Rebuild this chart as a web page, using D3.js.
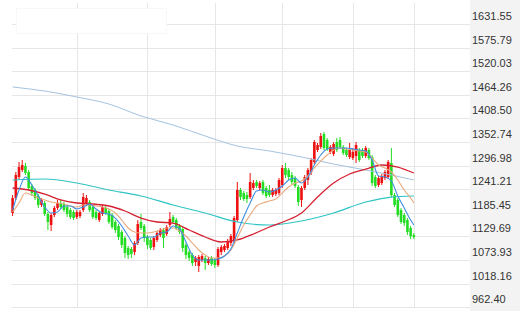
<!DOCTYPE html>
<html>
<head>
<meta charset="utf-8">
<script src="https://cdn.jsdelivr.net/npm/d3@7"></script>
<style>
  html, body { margin: 0; padding: 0; background: #fff; }
  svg { display: block; }
</style>
</head>
<body>
<div id="chart"></div>
<script>
// price axis labels (top to bottom)
const tickLabels = ['1631.55', '1575.79', '1520.03', '1464.26', '1408.50', '1352.74', '1296.98',
  '1241.21', '1185.45', '1129.69', '1073.93', '1018.16', '962.40'];

// candle index where each month starts (vertical grid lines)
const monthStarts = [20, 42, 63, 84, 106, 125];

const open = [
  1185.0, 1220.4, 1270.0, 1286.6, 1296.0, 1281.8, 1248.7, 1239.3, 1225.1, 1203.9,
  1208.6, 1182.6, 1156.6, 1180.2, 1196.8, 1208.6, 1206.2, 1199.1, 1192.0, 1187.3,
  1175.5, 1177.9, 1192.0, 1208.6, 1210.9, 1199.1, 1187.3, 1168.4, 1182.6, 1196.8,
  1189.7, 1180.2, 1163.7, 1154.2, 1140.1, 1125.9, 1102.3, 1099.9, 1092.8, 1114.1,
  1163.7, 1154.2, 1128.3, 1121.2, 1104.6, 1121.2, 1133.0, 1144.8, 1135.3, 1156.6,
  1175.5, 1168.4, 1154.2, 1147.2, 1109.4, 1092.8, 1085.7, 1069.2, 1059.8, 1073.9,
  1078.7, 1066.8, 1078.7, 1073.9, 1062.1, 1092.8, 1097.5, 1102.3, 1114.1, 1118.8,
  1168.4, 1239.3, 1232.2, 1227.5, 1222.7, 1244.0, 1258.2, 1244.0, 1258.2, 1244.0,
  1239.3, 1227.5, 1229.8, 1232.2, 1251.1, 1291.3, 1286.6, 1274.7, 1267.6, 1246.4,
  1215.7, 1244.0, 1262.9, 1281.8, 1305.5, 1333.8, 1340.9, 1371.6, 1357.5, 1329.1,
  1324.4, 1352.7, 1357.5, 1340.9, 1333.8, 1317.3, 1314.9, 1319.6, 1333.8, 1333.8,
  1319.6, 1333.8, 1317.3, 1270.0, 1251.1, 1255.8, 1267.6, 1270.0, 1303.1, 1227.5,
  1215.7, 1192.0, 1180.2, 1168.4, 1149.5, 1133.0
];
const close = [
  1220.4, 1274.7, 1293.6, 1298.4, 1279.5, 1244.0, 1232.2, 1220.4, 1203.9, 1215.7,
  1182.6, 1163.7, 1180.2, 1196.8, 1208.6, 1199.1, 1192.0, 1182.6, 1175.5, 1173.1,
  1187.3, 1187.3, 1222.7, 1220.4, 1192.0, 1175.5, 1173.1, 1185.0, 1199.1, 1185.0,
  1163.7, 1151.9, 1144.8, 1128.3, 1109.4, 1090.5, 1085.7, 1088.1, 1114.1, 1159.0,
  1149.5, 1125.9, 1109.4, 1102.3, 1125.9, 1137.7, 1144.8, 1125.9, 1151.9, 1170.8,
  1163.7, 1149.5, 1140.1, 1102.3, 1085.7, 1078.7, 1066.8, 1078.7, 1081.0, 1083.4,
  1066.8, 1076.3, 1064.5, 1062.1, 1099.9, 1104.6, 1107.0, 1118.8, 1130.6, 1173.1,
  1239.3, 1222.7, 1218.0, 1218.0, 1258.2, 1255.8, 1248.7, 1255.8, 1232.2, 1225.1,
  1227.5, 1239.3, 1239.3, 1262.9, 1291.3, 1274.7, 1270.0, 1258.2, 1248.7, 1210.9,
  1244.0, 1270.0, 1286.6, 1310.2, 1352.7, 1345.6, 1366.9, 1338.5, 1336.2, 1340.9,
  1348.0, 1333.8, 1340.9, 1326.7, 1322.0, 1333.8, 1329.1, 1345.6, 1310.2, 1319.6,
  1338.5, 1314.9, 1255.8, 1248.7, 1267.6, 1272.4, 1281.8, 1305.5, 1227.5, 1203.9,
  1180.2, 1163.7, 1161.3, 1140.1, 1130.6, 1128.3
];
const high = [
  1227.5, 1281.8, 1305.5, 1310.2, 1303.1, 1286.6, 1253.5, 1244.0, 1229.8, 1220.4,
  1213.3, 1187.3, 1185.0, 1201.5, 1215.7, 1215.7, 1210.9, 1203.9, 1196.8, 1192.0,
  1192.0, 1192.0, 1232.2, 1227.5, 1215.7, 1203.9, 1192.0, 1189.7, 1203.9, 1201.5,
  1194.4, 1185.0, 1168.4, 1159.0, 1144.8, 1130.6, 1107.0, 1104.6, 1118.8, 1168.4,
  1182.6, 1159.0, 1133.0, 1125.9, 1130.6, 1142.4, 1149.5, 1149.5, 1156.6, 1187.3,
  1180.2, 1173.1, 1159.0, 1151.9, 1114.1, 1097.5, 1090.5, 1083.4, 1085.7, 1088.1,
  1083.4, 1081.0, 1083.4, 1078.7, 1104.6, 1109.4, 1111.7, 1123.5, 1135.3, 1177.9,
  1258.2, 1244.0, 1236.9, 1234.6, 1279.5, 1262.9, 1262.9, 1260.6, 1262.9, 1248.7,
  1251.1, 1244.0, 1244.0, 1267.6, 1298.4, 1303.1, 1291.3, 1281.8, 1272.4, 1251.1,
  1248.7, 1274.7, 1291.3, 1314.9, 1357.5, 1350.4, 1374.0, 1376.4, 1362.2, 1345.6,
  1352.7, 1362.2, 1364.5, 1345.6, 1338.5, 1350.4, 1338.5, 1352.7, 1338.5, 1338.5,
  1343.3, 1338.5, 1322.0, 1274.7, 1272.4, 1277.1, 1286.6, 1310.2, 1338.5, 1232.2,
  1220.4, 1196.8, 1185.0, 1173.1, 1154.2, 1137.7
];
const low = [
  1177.9, 1215.7, 1265.3, 1281.8, 1274.7, 1239.3, 1225.1, 1215.7, 1196.8, 1199.1,
  1177.9, 1144.8, 1142.4, 1175.5, 1192.0, 1194.4, 1187.3, 1175.5, 1170.8, 1168.4,
  1170.8, 1173.1, 1187.3, 1201.5, 1187.3, 1170.8, 1168.4, 1163.7, 1177.9, 1180.2,
  1159.0, 1147.2, 1137.7, 1121.2, 1102.3, 1078.7, 1076.3, 1078.7, 1085.7, 1109.4,
  1144.8, 1116.4, 1099.9, 1097.5, 1097.5, 1116.4, 1128.3, 1102.3, 1130.6, 1151.9,
  1159.0, 1144.8, 1135.3, 1092.8, 1076.3, 1071.6, 1059.8, 1059.8, 1045.6, 1069.2,
  1050.3, 1062.1, 1059.8, 1055.0, 1057.4, 1085.7, 1092.8, 1097.5, 1107.0, 1114.1,
  1163.7, 1215.7, 1213.3, 1208.6, 1218.0, 1239.3, 1244.0, 1239.3, 1227.5, 1220.4,
  1222.7, 1222.7, 1225.1, 1227.5, 1244.0, 1267.6, 1262.9, 1253.5, 1244.0, 1201.5,
  1199.1, 1239.3, 1251.1, 1274.7, 1300.7, 1329.1, 1336.2, 1333.8, 1331.5, 1324.4,
  1319.6, 1329.1, 1336.2, 1322.0, 1317.3, 1312.6, 1310.2, 1303.1, 1305.5, 1314.9,
  1314.9, 1310.2, 1248.7, 1244.0, 1246.4, 1251.1, 1262.9, 1265.3, 1222.7, 1199.1,
  1175.5, 1159.0, 1154.2, 1133.0, 1123.5, 1123.5
];

// moving averages, [candle index, value]
const ma5 = [
  [0, 1192.0], [2, 1239.3], [4, 1270.0], [6, 1251.1], [8, 1225.1], [10, 1199.1], [12, 1185.0], [14, 1187.3],
  [16, 1201.5], [18, 1201.5], [20, 1194.4], [22, 1199.1], [24, 1206.2], [26, 1194.4], [28, 1185.0], [30, 1182.6],
  [32, 1173.1], [34, 1154.2], [36, 1130.6], [38, 1109.4], [40, 1125.9], [42, 1128.3], [44, 1128.3], [46, 1137.7],
  [48, 1140.1], [50, 1154.2], [52, 1147.2], [54, 1116.4], [56, 1085.7], [58, 1073.9], [60, 1073.9], [62, 1073.9],
  [64, 1076.3], [66, 1083.4], [68, 1099.9], [70, 1137.7], [72, 1175.5], [74, 1208.6], [76, 1236.9], [78, 1239.3],
  [80, 1234.6], [82, 1239.3], [84, 1248.7], [86, 1262.9], [88, 1267.6], [90, 1255.8], [92, 1270.0], [94, 1298.4],
  [96, 1322.0], [98, 1336.2], [100, 1338.5], [102, 1338.5], [104, 1338.5], [106, 1336.2], [108, 1333.8], [110, 1331.5],
  [112, 1310.2], [114, 1272.4], [116, 1270.0], [118, 1260.6], [120, 1225.1], [122, 1196.8], [124, 1168.4], [125, 1156.6]
];
const ma10 = [
  [0, 1187.3], [2, 1208.6], [4, 1232.2], [6, 1227.5], [8, 1220.4], [10, 1215.7], [12, 1210.9], [14, 1208.6],
  [16, 1206.2], [18, 1201.5], [20, 1199.1], [22, 1203.9], [24, 1203.9], [26, 1201.5], [28, 1199.1], [30, 1194.4],
  [32, 1185.0], [34, 1168.4], [36, 1149.5], [38, 1140.1], [40, 1137.7], [42, 1137.7], [44, 1140.1], [46, 1144.8],
  [48, 1149.5], [50, 1149.5], [52, 1142.4], [54, 1130.6], [56, 1114.1], [58, 1097.5], [60, 1085.7], [62, 1078.7],
  [64, 1078.7], [66, 1083.4], [68, 1097.5], [70, 1125.9], [72, 1156.6], [74, 1180.2], [76, 1201.5], [78, 1208.6],
  [80, 1213.3], [82, 1218.0], [84, 1232.2], [86, 1246.4], [88, 1255.8], [90, 1260.6], [92, 1272.4], [94, 1291.3],
  [96, 1307.8], [98, 1322.0], [100, 1333.8], [102, 1338.5], [104, 1336.2], [106, 1333.8], [108, 1331.5], [110, 1329.1],
  [112, 1314.9], [114, 1298.4], [116, 1291.3], [118, 1281.8], [120, 1262.9], [122, 1239.3], [124, 1220.4], [125, 1208.6]
];
const ma20 = [
  [0, 1244.0], [5, 1239.3], [10, 1229.8], [15, 1215.7], [20, 1208.6], [25, 1206.2], [30, 1201.5], [35, 1189.7],
  [40, 1173.1], [45, 1163.7], [50, 1161.3], [55, 1144.8], [60, 1128.3], [65, 1116.4], [70, 1121.2], [75, 1135.3],
  [80, 1151.9], [85, 1166.1], [90, 1185.0], [95, 1222.7], [100, 1255.8], [105, 1277.1], [110, 1288.9], [115, 1298.4],
  [120, 1293.6], [125, 1279.5]
];
const ma60 = [
  [0, 1262.9], [10, 1265.3], [20, 1255.8], [30, 1239.3], [40, 1225.1], [50, 1203.9], [60, 1185.0], [70, 1163.7],
  [80, 1156.6], [90, 1166.1], [100, 1185.0], [110, 1210.9], [118, 1222.7], [125, 1225.1]
];
const ma120 = [
  [0, 1482.7], [10, 1473.2], [20, 1459.1], [30, 1442.5], [40, 1414.2], [50, 1392.9], [60, 1366.9], [70, 1343.3],
  [80, 1331.5], [90, 1317.3], [100, 1300.7], [110, 1286.6], [118, 1274.7], [125, 1262.9]
];

const W = 520, H = 311;
const plotLeft = 12, plotRight = 470, plotTop = 3, plotBottom = 307.2;
const upColor = '#ee1111', downColor = '#22dd22';

const svg = d3.select('#chart').append('svg')
  .attr('width', W)
  .attr('height', H);

const idx = d3.range(open.length);
const x = d3.scalePoint().domain(idx).range([12.6, 12.6 + 125 * 3.21]);
const tickValues = tickLabels.map(Number);
const y = d3.scaleLinear()
  .domain([d3.min(tickValues), d3.max(tickValues)])
  .range([plotBottom, 24]);

// right label panel
svg.append('rect')
  .attr('x', plotRight).attr('y', 0)
  .attr('width', W - plotRight).attr('height', H)
  .attr('fill', '#f3f3f3');

// grid
const grid = svg.append('g').attr('shape-rendering', 'crispEdges');
grid.selectAll('.hgrid')
  .data(tickValues)
  .enter().append('line')
  .attr('class', 'hgrid')
  .attr('x1', plotLeft).attr('x2', plotRight)
  .attr('y1', d => Math.round(y(d)) + 0.5).attr('y2', d => Math.round(y(d)) + 0.5)
  .attr('stroke', '#e6e6e6');
grid.selectAll('.vgrid')
  .data(monthStarts)
  .enter().append('line')
  .attr('class', 'vgrid')
  .attr('x1', d => Math.round(x(d)) + 0.5).attr('x2', d => Math.round(x(d)) + 0.5)
  .attr('y1', plotTop).attr('y2', plotBottom)
  .attr('stroke', '#e6e6e6');

// faded legend box, top left
svg.append('rect')
  .attr('x', 16.5).attr('y', 8.5)
  .attr('width', 150).attr('height', 25)
  .attr('fill', '#fff')
  .attr('stroke', '#f8f8f8');

// price labels
svg.append('g').selectAll('text')
  .data(tickValues)
  .enter().append('text')
  .attr('x', 472)
  .attr('y', d => y(d) - 4)
  .attr('font-family', '"Liberation Sans", Arial, sans-serif')
  .attr('font-size', 11)
  .attr('fill', '#333')
  .text((d, i) => tickLabels[i]);

// candles
const bodyW = 2.6;
const candles = svg.append('g').selectAll('g')
  .data(idx)
  .enter().append('g');
candles.append('line')
  .attr('x1', i => x(i)).attr('x2', i => x(i))
  .attr('y1', i => y(high[i])).attr('y2', i => y(low[i]))
  .attr('stroke', i => close[i] >= open[i] ? upColor : downColor)
  .attr('stroke-width', 1);
candles.append('rect')
  .attr('x', i => x(i) - bodyW / 2)
  .attr('y', i => y(Math.max(open[i], close[i])))
  .attr('width', bodyW)
  .attr('height', i => Math.max(1, Math.abs(y(open[i]) - y(close[i]))))
  .attr('fill', i => close[i] >= open[i] ? upColor : downColor);

// moving average lines
const line = d3.line()
  .x(d => x(d[0]))
  .y(d => y(d[1]))
  .curve(d3.curveMonotoneX);
const maSeries = [
  {data: ma120, color: '#a4c2df', width: 1},
  {data: ma60, color: '#2ec4c4', width: 1.2},
  {data: ma20, color: '#d42030', width: 1.3},
  {data: ma10, color: '#e8a97c', width: 1.1},
  {data: ma5, color: '#3f8ee0', width: 1.1}
];
svg.append('g').selectAll('path')
  .data(maSeries)
  .enter().append('path')
  .attr('d', d => line(d.data))
  .attr('fill', 'none')
  .attr('stroke', d => d.color)
  .attr('stroke-width', d => d.width);
</script>
</body>
</html>
